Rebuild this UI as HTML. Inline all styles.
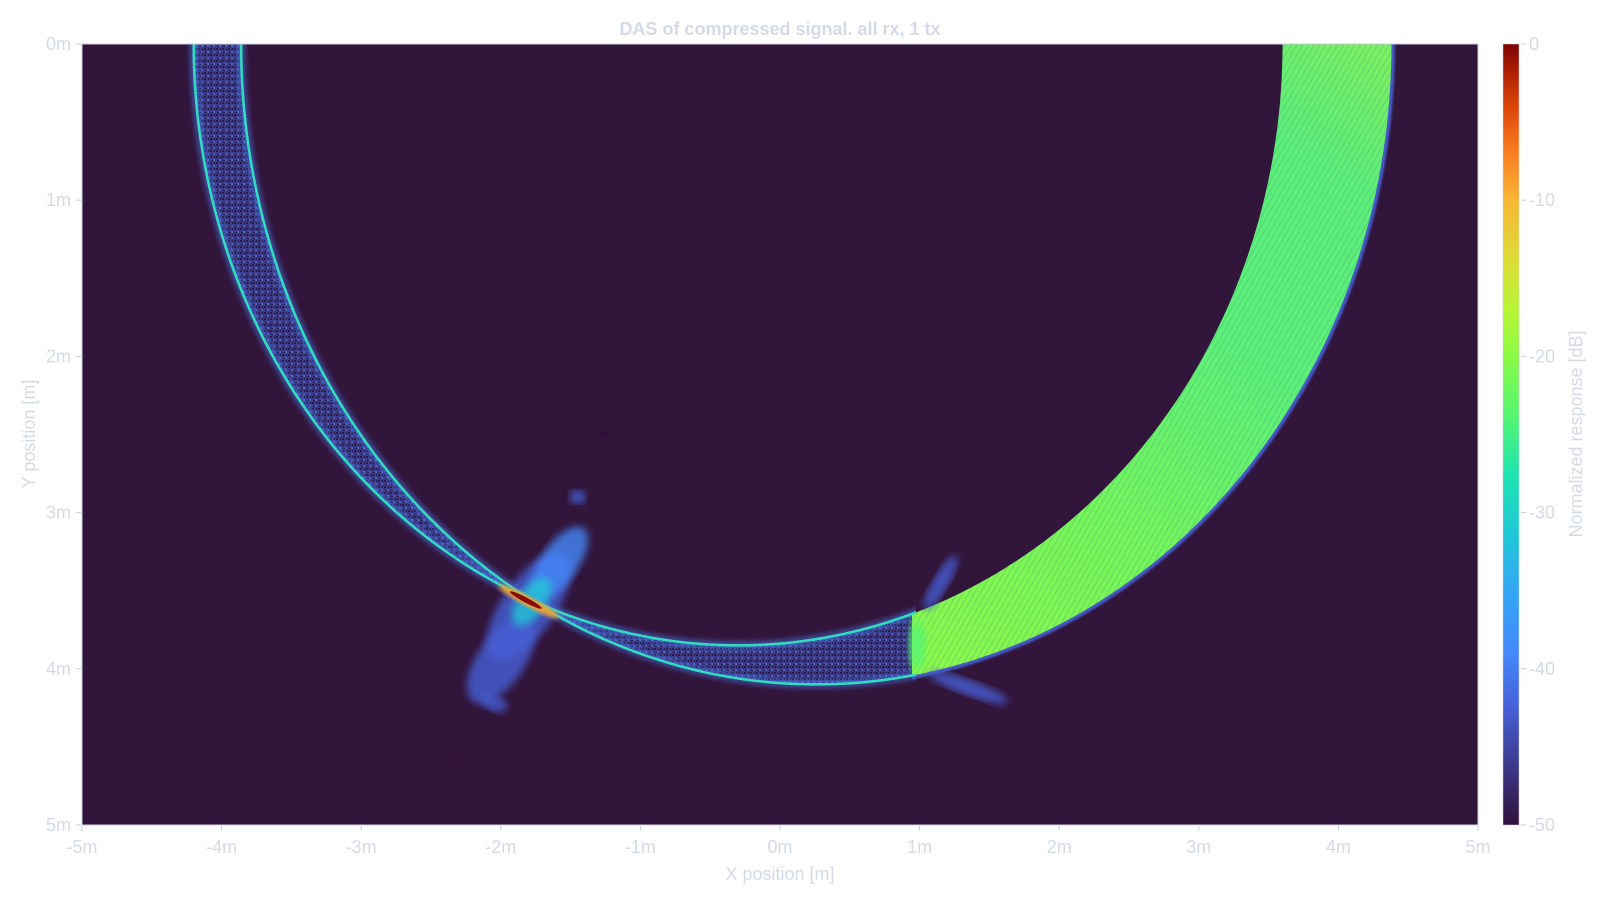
<!DOCTYPE html>
<html><head><meta charset="utf-8"><style>
html,body{margin:0;padding:0;background:#fff;width:1600px;height:900px;overflow:hidden}
svg text{font-family:"Liberation Sans",Arial,sans-serif;fill:#d5dae7}
</style></head><body>
<svg id="chart" width="1600" height="900" viewBox="0 0 1600 900" xmlns="http://www.w3.org/2000/svg">
<defs>
<linearGradient id="turbo" x1="0" y1="1" x2="0" y2="0">
<stop offset="0" stop-color="#30123b"/><stop offset="0.08" stop-color="#3e3a8f"/>
<stop offset="0.15" stop-color="#4660d8"/><stop offset="0.22" stop-color="#4489fb"/>
<stop offset="0.3" stop-color="#34a6f5"/><stop offset="0.37" stop-color="#20c7d8"/>
<stop offset="0.45" stop-color="#1fe4b0"/><stop offset="0.52" stop-color="#52f573"/>
<stop offset="0.6" stop-color="#8afa44"/><stop offset="0.66" stop-color="#b8f535"/>
<stop offset="0.72" stop-color="#dcde37"/><stop offset="0.8" stop-color="#f8b634"/>
<stop offset="0.86" stop-color="#fb7e21"/><stop offset="0.92" stop-color="#dd4508"/>
<stop offset="0.97" stop-color="#a91a02"/><stop offset="1" stop-color="#7a0403"/>
</linearGradient>
<linearGradient id="greenband" gradientUnits="userSpaceOnUse" x1="900" y1="680" x2="1360" y2="44">
<stop offset="0" stop-color="#8ef84a"/><stop offset="0.3" stop-color="#76f65a"/>
<stop offset="0.6" stop-color="#5cf07a"/><stop offset="0.85" stop-color="#5cee7a"/><stop offset="1" stop-color="#7af062"/>
</linearGradient>
<pattern id="speckle" width="6" height="6" patternUnits="userSpaceOnUse">
<rect width="6" height="6" fill="#3a4bb0"/><rect x="0" y="0" width="2" height="2" fill="#2b1a4a"/>
<rect x="3" y="3" width="2" height="2" fill="#4f86f0"/><rect x="4" y="0" width="1" height="2" fill="#2b1a4a"/>
<rect x="1" y="4" width="2" height="1" fill="#2b1a4a"/>
</pattern>
<pattern id="stripes" width="5" height="5" patternUnits="userSpaceOnUse" patternTransform="rotate(30)">
<rect width="1.2" height="5" fill="#3a8a70" opacity="0.25"/>
</pattern>
<filter id="blur1"><feGaussianBlur stdDeviation="1"/></filter>
<filter id="blur2"><feGaussianBlur stdDeviation="2"/></filter>
<filter id="blur4"><feGaussianBlur stdDeviation="4"/></filter>
<clipPath id="plotclip"><rect x="82" y="44" width="1396" height="781"/></clipPath>
<clipPath id="leftclip"><rect x="0" y="0" width="916" height="900"/></clipPath>
<clipPath id="rightclip"><rect x="912" y="0" width="700" height="900"/></clipPath>
</defs>
<rect x="82" y="44" width="1396" height="781" fill="#32153b"/>
<g id="marks" clip-path="url(#plotclip)"></g>
<rect x="82" y="44" width="1396" height="781" fill="none" stroke="#c9cedc" stroke-width="1"/>
<g id="axes"></g>
<text x="780" y="35" text-anchor="middle" font-size="18" font-weight="bold">DAS of compressed signal. all rx, 1 tx</text>
<text x="780" y="880" text-anchor="middle" font-size="18">X position [m]</text>
<text transform="translate(35,434) rotate(-90)" text-anchor="middle" font-size="18">Y position [m]</text>
<rect x="1503" y="44" width="16" height="781" fill="url(#turbo)" stroke="#c9cedc" stroke-width="0.5"/>
<text transform="translate(1582,434) rotate(-90)" text-anchor="middle" font-size="18">Normalized response [dB]</text>
</svg>
<script>
// axis ticks
const xTicks = [-5,-4,-3,-2,-1,0,1,2,3,4,5];
const yTicks = [0,1,2,3,4,5];
const cTicks = [0,-10,-20,-30,-40,-50];
// wavefront ellipses in metres: [centerX, centerY, semiAxisX, semiAxisY]
const ringA = [-0.3, 0, 3.9, 3.85];
const ringB = [0.26, 0, 4.12, 4.1];
// sidelobe blobs [x, y, rx(m), ry(m), angle(deg), dB]
const blobs = [[-1.8,3.6,0.45,0.17,-55,-40],[-1.58,3.32,0.3,0.12,-55,-39],[-2.0,3.95,0.35,0.15,-55,-41],
 [-1.78,3.57,0.2,0.09,-55,-30],
 [-1.45,2.9,0.06,0.045,0,-42],[-1.33,2.7,0.04,0.025,0,-43],[-1.25,2.5,0.03,0.02,0,-45],
 [-2.05,4.22,0.1,0.05,20,-42],[-2.2,4.45,0.07,0.04,20,-43],[-2.3,4.6,0.05,0.03,20,-45],
 [1.15,3.45,0.22,0.05,-60,-41],[1.35,4.12,0.3,0.05,20,-42],[0.98,3.85,0.06,0.16,0,-22]];
const X0=82,X1=1478,Y0=44,Y1=825;
const sx=m=>X0+(m+5)/10*(X1-X0);
const sy=m=>Y0+m/5*(Y1-Y0);
const sc=d=>Y0+(-d)/50*(Y1-Y0);
const NS='http://www.w3.org/2000/svg';
function mk(tag,attrs,parent){const e=document.createElementNS(NS,tag);for(const k in attrs)e.setAttribute(k,attrs[k]);parent.appendChild(e);return e;}
function ringPath(r){const [cx,cy,a,b]=r;let d='';
 for(let i=0;i<=360;i++){const t=i/360*2*Math.PI;
  d+=(i?'L':'M')+sx(cx+a*Math.cos(t)).toFixed(1)+','+sy(cy+b*Math.sin(t)).toFixed(1);}return d+'Z';}
function colorFor(db){const t=(db+50)/50;const st=[[0,'#30123b'],[0.15,'#4660d8'],[0.22,'#4489fb'],[0.37,'#20c7d8'],[0.52,'#52f573'],[0.66,'#b8f535'],[0.8,'#f8b634'],[0.92,'#dd4508'],[1,'#7a0403']];
 for(let i=st.length-1;i>=0;i--)if(t>=st[i][0])return st[i][1];return st[0][1];}
const g=document.getElementById('marks');
const pA=ringPath(ringA),pB=ringPath(ringB);
// left double band (between A and B)
let el=mk('path',{d:pA+pB,'fill-rule':'evenodd',fill:'url(#speckle)',opacity:0.7,'clip-path':'url(#leftclip)'},g);


el=mk('path',{d:pA,fill:'none',stroke:'#4a7ff0','stroke-width':9,opacity:0.45,filter:'url(#blur2)','clip-path':'url(#leftclip)'},g);


el=mk('path',{d:pB,fill:'none',stroke:'#4a7ff0','stroke-width':9,opacity:0.45,filter:'url(#blur2)','clip-path':'url(#leftclip)'},g);


// green band (between A and B on the right)
el=mk('path',{d:pB,fill:'none',stroke:'#4a62d8','stroke-width':7,opacity:0.9,filter:'url(#blur1)','clip-path':'url(#rightclip)'},g);


el=mk('path',{d:pA+pB,'fill-rule':'evenodd',fill:'url(#greenband)','clip-path':'url(#rightclip)'},g);


el=mk('path',{d:pA+pB,'fill-rule':'evenodd',fill:'url(#stripes)','clip-path':'url(#rightclip)'},g);


// blobs
blobs.forEach(b=>{const e=mk('ellipse',{cx:sx(b[0]),cy:sy(b[1]),rx:b[2]*(X1-X0)/10,ry:b[3]*(Y1-Y0)/5,
 transform:'rotate('+b[4]+' '+sx(b[0])+' '+sy(b[1])+')',fill:colorFor(b[5]),opacity:0.8,filter:'url(#blur4)'},g);
 
 });
// thin lines
el=mk('path',{d:pA,fill:'none',stroke:'#33dcc0','stroke-width':2.5,'clip-path':'url(#leftclip)'},g);


el=mk('path',{d:pB,fill:'none',stroke:'#33dcc0','stroke-width':2.5,'clip-path':'url(#leftclip)'},g);


// peak
el=mk('ellipse',{cx:sx(-1.8),cy:sy(3.57),rx:34,ry:5,transform:'rotate(28 '+sx(-1.8)+' '+sy(3.57)+')',fill:'#f0a030',filter:'url(#blur2)'},g);


el=mk('ellipse',{cx:sx(-1.82),cy:sy(3.56),rx:18,ry:2.5,transform:'rotate(28 '+sx(-1.82)+' '+sy(3.56)+')',fill:'#8a0a04'},g);


// axes
const ax=document.getElementById('axes');
xTicks.forEach(v=>{const x=sx(v);
 let t=mk('line',{x1:x,y1:Y1+1,x2:x,y2:Y1+6,stroke:'#c9cedc'},ax);
 
 
 t=mk('text',{x:x,y:Y1+28,'text-anchor':'middle','font-size':18},ax);t.textContent=v+'m';
 
 });
yTicks.forEach(v=>{const y=sy(v);
 let t=mk('line',{x1:X0-6,y1:y,x2:X0-1,y2:y,stroke:'#c9cedc'},ax);
 
 
 t=mk('text',{x:X0-11,y:y+6,'text-anchor':'end','font-size':18},ax);t.textContent=v+'m';
 
 });
cTicks.forEach(v=>{const y=sc(v);
 let t=mk('line',{x1:1521,y1:y,x2:1526,y2:y,stroke:'#c9cedc'},ax);
 
 
 t=mk('text',{x:1529,y:y+6,'font-size':18},ax);t.textContent=String(v);
 
 });
</script>
</body></html>
